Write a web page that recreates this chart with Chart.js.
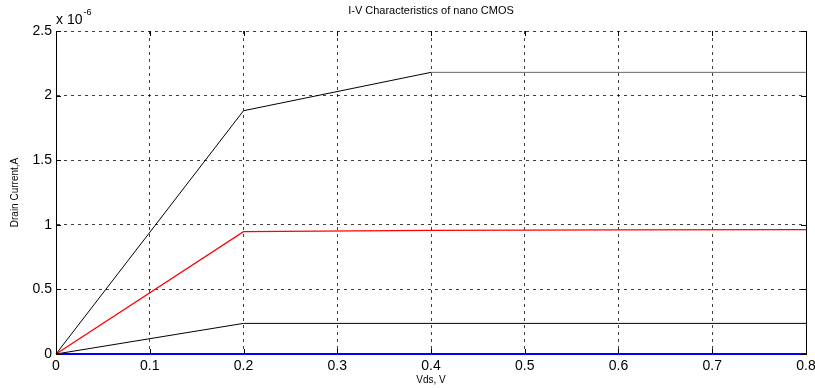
<!DOCTYPE html>
<html>
<head>
<meta charset="utf-8">
<script src="https://cdn.jsdelivr.net/npm/chart.js@4/dist/chart.umd.min.js"></script>
<style>
html,body{margin:0;padding:0;background:#fff;}
#wrap{width:815px;height:388px;}
</style>
</head>
<body>
<div id="wrap"><canvas id="c" width="815" height="388"></canvas></div>
<script>
// ---- data (Drain current in A vs Vds in V) ----
const vds = [0, 0.2, 0.4, 0.6, 0.8];
const topVds = [0, 0.2, 0.4];
const topCurrent = [0, 1.883e-6, 2.18e-6];
const topTailVds = [0.4, 0.8];
const topTailCurrent = [2.18e-6, 2.18e-6];
const redCurrent = [0, 0.947e-6, 0.957e-6, 0.960e-6, 0.962e-6];
const lowCurrent = [0, 0.237e-6, 0.237e-6, 0.237e-6, 0.237e-6];
const blueCurrent = [0, 0, 0, 0, 0];
const xTicks = [0, 0.1, 0.2, 0.3, 0.4, 0.5, 0.6, 0.7, 0.8];
const yTicks = [0, 0.5e-6, 1e-6, 1.5e-6, 2e-6, 2.5e-6];
const titleText = 'I-V Characteristics of nano CMOS';
const xTitle = 'Vds, V';
const yTitle = 'Drain Current,A';

const pts = (xs, ys) => xs.map((x, i) => ({x: x, y: ys[i]}));
const FONT = "'Liberation Sans', Arial, sans-serif";

const deco = {
  id: 'deco',
  afterDraw(chart) {
    const ctx = chart.ctx, a = chart.chartArea;
    const xs = chart.scales.x, ys = chart.scales.y;
    ctx.save();
    // right border
    ctx.strokeStyle = '#000';
    ctx.lineWidth = 1;
    ctx.beginPath();
    ctx.moveTo(Math.round(a.right) + 0.5, a.top);
    ctx.lineTo(Math.round(a.right) + 0.5, a.bottom);
    ctx.stroke();
    // inward tick marks
    const L = 5;
    ctx.beginPath();
    xTicks.forEach(v => {
      const px = Math.round(xs.getPixelForValue(v)) + 0.5;
      ctx.moveTo(px, a.top); ctx.lineTo(px, a.top + L);
      ctx.moveTo(px, a.bottom); ctx.lineTo(px, a.bottom - L);
    });
    yTicks.forEach(v => {
      const py = Math.round(ys.getPixelForValue(v)) + 0.5;
      ctx.moveTo(a.left, py); ctx.lineTo(a.left + L, py);
      ctx.moveTo(a.right, py); ctx.lineTo(a.right - L, py);
    });
    ctx.stroke();
    // title
    ctx.fillStyle = '#000';
    ctx.font = '11px ' + FONT;
    ctx.textAlign = 'center';
    ctx.textBaseline = 'middle';
    ctx.fillText(titleText, (a.left + a.right) / 2, 11);
    // exponent
    ctx.textAlign = 'left';
    ctx.textBaseline = 'alphabetic';
    ctx.font = '14px ' + FONT;
    ctx.fillText('x 10', a.left, 24);
    const w = ctx.measureText('x 10').width;
    ctx.font = '9px ' + FONT;
    ctx.fillText('-6', a.left + w + 1, 15);
    ctx.restore();
  }
};

new Chart(document.getElementById('c'), {
  type: 'line',
  data: {
    datasets: [
      {data: pts(vds, blueCurrent), borderColor: '#0000ff', borderWidth: 2, order: 0},
      {data: pts(topVds, topCurrent), borderColor: '#000000', borderWidth: 1, order: 1},
      {data: pts(topTailVds, topTailCurrent), borderColor: '#666666', borderWidth: 1, order: 2},
      {data: pts(vds, redCurrent), borderColor: '#ff0000', borderWidth: 1.3, order: 3},
      {data: pts(vds, lowCurrent), borderColor: '#000000', borderWidth: 1, order: 4}
    ]
  },
  options: {
    responsive: false,
    animation: false,
    devicePixelRatio: 1,
    layout: {padding: {top: 31, right: 9, left: 0, bottom: 0}},
    elements: {point: {radius: 0}, line: {tension: 0, fill: false}},
    datasets: {line: {clip: false}},
    plugins: {legend: {display: false}, title: {display: false}, tooltip: {enabled: false}},
    scales: {
      x: {
        type: 'linear', min: 0, max: 0.8,
        afterBuildTicks(s) { s.ticks = xTicks.map(v => ({value: v})); },
        afterFit(s) { s.height = 34; s.paddingLeft = 0; s.paddingRight = 0; },
        grid: {color: 'rgba(0,0,0,0.75)', lineWidth: 1, drawTicks: false},
        border: {display: true, color: '#000', width: 1, dash: [3, 4]},
        ticks: {color: '#000', font: {family: FONT, size: 14}, padding: 4, maxRotation: 0,
          callback: v => String(+v.toFixed(2))},
        title: {display: true, text: xTitle, color: '#000', font: {family: FONT, size: 10}, padding: {top: 0, bottom: 2}}
      },
      y: {
        type: 'linear', min: 0, max: 2.5e-6,
        afterBuildTicks(s) { s.ticks = yTicks.map(v => ({value: v})); },
        afterFit(s) { s.width = 56; s.paddingTop = 0; s.paddingBottom = 0; },
        grid: {color: 'rgba(0,0,0,0.75)', lineWidth: 1, drawTicks: false},
        border: {display: true, color: '#000', width: 1, dash: [3, 4]},
        ticks: {color: '#000', font: {family: FONT, size: 14}, padding: 4,
          callback: v => String(+(v * 1e6).toFixed(2))},
        title: {display: true, text: yTitle, color: '#000', font: {family: FONT, size: 10}, padding: {top: 9, bottom: 0}}
      }
    }
  },
  plugins: [deco]
});
</script>
</body>
</html>
